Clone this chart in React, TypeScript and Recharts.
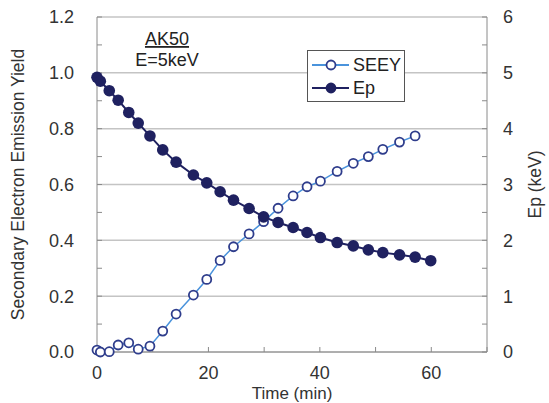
import { LineChart, Line, XAxis, YAxis, CartesianGrid, Legend } from "recharts";

// time stamps (min) shared by both series
const time = [
  0, 0.6, 2.2, 3.8, 5.7, 7.4, 9.5, 11.8, 14.2, 17.3, 19.7, 22.1, 24.5, 27.3, 29.9,
  32.5, 35.2, 37.7, 40.1, 43.1, 46.0, 48.7, 51.3, 54.3, 57.1, 59.9,
];

// secondary electron emission yield (left axis)
const seey = [
  0.007, 0.0, 0.001, 0.025, 0.033, 0.01, 0.021, 0.075, 0.136, 0.204, 0.26, 0.328, 0.377,
  0.423, 0.467, 0.515, 0.559, 0.592, 0.612, 0.647, 0.676, 0.7, 0.726, 0.752, 0.774, null,
];

// primary energy Ep in keV (right axis)
const ep = [
  4.92, 4.85, 4.68, 4.51, 4.29, 4.1, 3.87, 3.62, 3.4, 3.17, 3.03, 2.87, 2.72, 2.57, 2.42,
  2.32, 2.23, 2.14, 2.05, 1.96, 1.9, 1.83, 1.78, 1.74, 1.7, 1.635,
];

const xTicks = [0, 10, 20, 30, 40, 50, 60, 70];
const leftTicks = [0, 0.1, 0.2, 0.3, 0.4, 0.5, 0.6, 0.7, 0.8, 0.9, 1.0, 1.1, 1.2];
const rightTicks = [0, 0.5, 1, 1.5, 2, 2.5, 3, 3.5, 4, 4.5, 5, 5.5, 6];
const gridValues = [0, 0.2, 0.4, 0.6, 0.8, 1.0, 1.2];

const data = time.map((t, i) => ({ t, seey: seey[i], ep: ep[i] }));

const FONT = "'Liberation Sans', Arial, sans-serif";
const NAVY = "#1f2160";
const BLUE_LINE = "#4a93dc";
const RING = "#2f3d8c";
const TEXT = "#333";
const AXIS = "#8a8a8a";

const LegendBox = () => (
  <div
    style={{
      width: 98,
      height: 52,
      boxSizing: "border-box",
      border: "1.5px solid #555",
      background: "#fff",
      fontFamily: FONT,
      fontSize: 18,
      color: "#222",
    }}
  >
    {[
      { name: "SEEY", line: BLUE_LINE, fill: "#fff", stroke: RING },
      { name: "Ep", line: NAVY, fill: NAVY, stroke: NAVY },
    ].map((e) => (
      <div key={e.name} style={{ display: "flex", alignItems: "center", height: 23, marginTop: e.name === "SEEY" ? 2 : 0 }}>
        <svg width={42} height={14} style={{ marginLeft: 3 }}>
          <line x1={1} y1={7} x2={38} y2={7} stroke={e.line} strokeWidth={2} />
          <circle cx={20} cy={7} r={4.5} fill={e.fill} stroke={e.stroke} strokeWidth={1.8} />
        </svg>
        <span style={{ lineHeight: "18px" }}>{e.name}</span>
      </div>
    ))}
  </div>
);

export default function App() {
  return (
    <div style={{ position: "absolute", left: 0, top: 0, width: 549, height: 403, background: "#fff" }}>
      <LineChart width={549} height={403} data={data} margin={{ top: 17, right: 0, bottom: 0, left: 0 }}>
        <CartesianGrid
          yAxisId="left"
          vertical={false}
          horizontalValues={gridValues}
          stroke="#c4c4c4"
          strokeWidth={1.5}
        />
        <XAxis
          dataKey="t"
          type="number"
          domain={[0, 70]}
          ticks={xTicks}
          tickFormatter={(v: number) => (v % 20 === 0 && v < 70 ? String(v) : "")}
          height={51}
          tickSize={-5}
          tickMargin={19}
          stroke={AXIS}
          tick={{ fill: TEXT, fontSize: 18, fontFamily: FONT }}
          label={{ value: "Time (min)", position: "insideBottom", offset: 4, fill: TEXT, fontSize: 17, fontFamily: FONT }}
        />
        <YAxis
          yAxisId="left"
          orientation="left"
          domain={[0, 1.2]}
          ticks={leftTicks}
          tickFormatter={(v: number, i: number) => (i % 2 === 0 ? v.toFixed(1) : "")}
          width={97}
          tickSize={-5}
          tickMargin={28}
          stroke={AXIS}
          tick={{ fill: TEXT, fontSize: 18, fontFamily: FONT }}
          label={{
            value: "Secondary Electron Emission Yield",
            angle: -90,
            position: "insideLeft",
            offset: 18,
            fill: TEXT,
            fontSize: 17.5,
            fontFamily: FONT,
            style: { textAnchor: "middle" },
          }}
        />
        <YAxis
          yAxisId="right"
          orientation="right"
          domain={[0, 6]}
          ticks={rightTicks}
          tickFormatter={(v: number) => (Number.isInteger(v) ? String(v) : "")}
          width={62}
          tickSize={-5}
          tickMargin={21}
          stroke={AXIS}
          tick={{ fill: TEXT, fontSize: 18, fontFamily: FONT }}
          label={{
            value: "Ep (keV)",
            angle: -90,
            position: "insideRight",
            offset: 14,
            fill: TEXT,
            fontSize: 17.5,
            fontFamily: FONT,
            style: { textAnchor: "middle" },
          }}
        />
        <Legend
          layout="vertical"
          align="center"
          verticalAlign="middle"
          wrapperStyle={{ left: 307, top: 50, width: 98, height: 52 }}
          content={() => <LegendBox />}
        />
        <Line
          yAxisId="left"
          dataKey="seey"
          name="SEEY"
          type="linear"
          stroke={BLUE_LINE}
          strokeWidth={1.5}
          dot={{ r: 4.5, fill: "#fff", stroke: RING, strokeWidth: 1.8 }}
          activeDot={false}
          isAnimationActive={false}
        />
        <Line
          yAxisId="right"
          dataKey="ep"
          name="Ep"
          type="linear"
          stroke={NAVY}
          strokeWidth={2}
          dot={{ r: 5.8, fill: NAVY, stroke: NAVY, strokeWidth: 0 }}
          activeDot={false}
          isAnimationActive={false}
        />
        <text x={167} y={45} textAnchor="middle" fontSize={18} fontFamily={FONT} fill="#222" textDecoration="underline">
          AK50
        </text>
        <text x={167} y={66} textAnchor="middle" fontSize={18} fontFamily={FONT} fill="#222">
          E=5keV
        </text>
      </LineChart>
    </div>
  );
}
